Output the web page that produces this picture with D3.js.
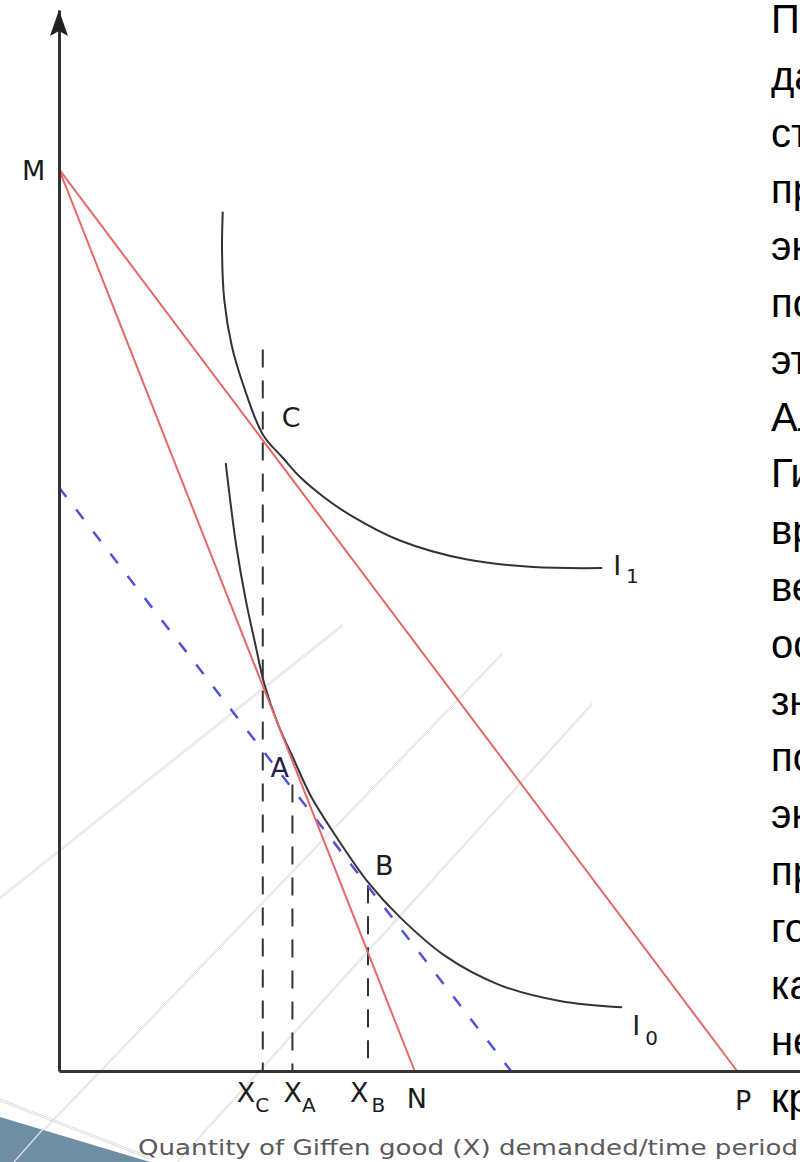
<!DOCTYPE html>
<html>
<head>
<meta charset="utf-8">
<script src="https://cdn.jsdelivr.net/npm/d3@7"></script>
<style>
  body { margin: 0; background: #fff; overflow: hidden; }
  svg { display: block; }
</style>
</head>
<body>
<div id="chart"></div>
<script>
var svgWidth = 800;
var svgHeight = 1162;

// budget lines, as [x, y] intercept pairs in chart units
var budgetMN = [[0, 8.5], [4.8, 0]];
var budgetMP = [[0, 8.5], [9.15, 0]];
var compensated = [[0, 5.5], [6.1, 0]];

// indifference curves
var curveI1 = [[2.21, 8.10], [2.20, 7.74], [2.23, 7.27], [2.33, 6.84], [2.48, 6.48],
  [2.75, 6.00], [3.02, 5.78], [3.25, 5.60], [3.59, 5.40], [3.93, 5.24], [4.60, 5.00],
  [5.51, 4.82], [6.40, 4.75], [7.33, 4.74]];
var curveI0 = [[2.25, 5.73], [2.31, 5.38], [2.39, 4.96], [2.52, 4.44], [2.65, 4.02],
  [2.77, 3.65], [2.96, 3.26], [3.16, 2.95], [3.40, 2.59], [3.74, 2.21], [4.17, 1.78],
  [4.60, 1.45], [5.22, 1.08], [5.95, 0.81], [6.76, 0.66], [7.60, 0.60]];

// quantities demanded and height where the dashed drop line starts
var dropNames = ["C", "A", "B"];
var dropX = [2.75, 3.15, 4.17];
var dropTop = [6.8, 2.7, 1.75];

var axisTitle = "Quantity of Giffen good (X) demanded/time period";

// slide text on the right, cut by the edge
var slideLines = ["Парадокс", "данный", "стал", "примером", "экономической", "политики",
  "этот", "Альфред", "Гиффен", "время", "века", "основываясь", "знании", "положения",
  "экономики", "при", "голоде", "картофель", "не", "кризис"];

var svg = d3.select("#chart")
  .append("svg")
  .attr("width", svgWidth)
  .attr("height", svgHeight);

var x = d3.scaleLinear().domain([0, 10]).range([59, 800]);
var y = d3.scaleLinear().domain([0, 10]).range([1071, 10]);

// background decoration of the slide
var deco = svg.append("g").attr("fill", "none");
var decoLines = [[0, 898, 343, 625], [13, 1162, 502, 654], [177, 1162, 592, 704], [0, 1100, 150, 1158]];
decoLines.forEach(function(l) {
  [-1, 1].forEach(function(o) {
    deco.append("line")
      .attr("x1", l[0]).attr("y1", l[1] + o)
      .attr("x2", l[2]).attr("y2", l[3] + o)
      .attr("stroke", "#d2d2d2")
      .attr("stroke-width", 0.8);
  });
});
deco.append("path")
  .attr("d", "M0,1117L150,1162L0,1162Z")
  .attr("fill", "#6f8ea4");
deco.append("line")
  .attr("x1", 14).attr("y1", 1162).attr("x2", 44).attr("y2", 1128)
  .attr("stroke", "#dfe8ee").attr("stroke-width", 1.2);

// slide text
var slideText = svg.append("g")
  .attr("font-family", "'Liberation Sans', Arial, sans-serif")
  .attr("font-size", 40)
  .attr("fill", "#000");
slideLines.forEach(function(t, i) {
  slideText.append("text")
    .attr("x", 771)
    .attr("y", 33 + i * 56.8)
    .text(t);
});

var line = d3.line().x(d => x(d[0])).y(d => y(d[1]));

// dashed drop lines
var drops = svg.append("g");
dropX.forEach(function(v, i) {
  drops.append("line")
    .attr("x1", x(v)).attr("y1", y(dropTop[i]))
    .attr("x2", x(v)).attr("y2", y(0))
    .attr("stroke", "#333")
    .attr("stroke-width", 2)
    .attr("stroke-dasharray", "18,13");
});

// compensated budget line
svg.append("path")
  .datum(compensated)
  .attr("d", line)
  .attr("fill", "none")
  .attr("stroke", "#5252d6")
  .attr("stroke-width", 2.5)
  .attr("stroke-dasharray", "12,16");

// indifference curves
var curve = d3.line().x(d => x(d[0])).y(d => y(d[1])).curve(d3.curveCatmullRom);
[curveI1, curveI0].forEach(function(c) {
  svg.append("path")
    .datum(c)
    .attr("d", curve)
    .attr("fill", "none")
    .attr("stroke", "#333")
    .attr("stroke-width", 2);
});

// budget lines
[budgetMN, budgetMP].forEach(function(b) {
  svg.append("path")
    .datum(b)
    .attr("d", line)
    .attr("fill", "none")
    .attr("stroke", "#e46868")
    .attr("stroke-width", 2);
});

// axes
svg.append("g")
  .attr("transform", `translate(0, ${y(0)})`)
  .call(d3.axisBottom(x).tickValues([]).tickSizeOuter(0));
svg.append("g")
  .attr("transform", `translate(${x(0)}, 0)`)
  .call(d3.axisLeft(y).tickValues([]).tickSizeOuter(0));
svg.selectAll(".domain").attr("stroke", "#333").attr("stroke-width", 3);
svg.append("path")
  .attr("transform", `translate(${x(0)}, ${y(10)})`)
  .attr("d", "M0,0L-9,26L0,21L9,26Z")
  .attr("fill", "#222");

// labels
var labels = svg.append("g")
  .attr("font-family", "'DejaVu Sans', sans-serif")
  .attr("font-size", 27)
  .attr("fill", "#1c1c1c");

function label(px, py, main, sub, subDy, subDx) {
  var t = labels.append("text").attr("x", px).attr("y", py).text(main);
  if (sub) {
    t.append("tspan")
      .attr("font-size", 20)
      .attr("dx", subDx || 0)
      .attr("dy", subDy)
      .text(sub);
  }
  return t;
}

label(x(0) - 37, y(budgetMN[0][1]) + 11, "M");
label(x(budgetMN[1][0]) - 8, y(0) + 37, "N");
label(x(budgetMP[1][0]) - 2, y(0) + 39, "P");
label(x(dropX[0]) + 19, y(curveI1[5][1]) - 7, "C");
label(x(dropX[1]) - 22, y(curveI0[7][1]) + 19, "A").attr("fill", "#22224a");
label(x(dropX[2]) + 7, y(curveI0[10][1]) - 7, "B");
label(x(curveI1[13][0]) + 11, y(curveI1[13][1]) + 7, "I", "1", 8, 5);
label(x(curveI0[15][0]) + 10, y(curveI0[15][1]) + 28, "I", "0", 10, 5);

var xLabelDx = [-26, -9, -18];
var xSubDx = [0, 0, 3];
dropX.forEach(function(v, i) {
  label(x(v) + xLabelDx[i], y(0) + 31, "X", dropNames[i], 10, xSubDx[i]);
});

svg.append("text")
  .attr("x", 138)
  .attr("y", 1155)
  .attr("font-family", "'DejaVu Sans', sans-serif")
  .attr("font-size", 22)
  .attr("fill", "#5a5a5a")
  .attr("textLength", 660)
  .attr("lengthAdjust", "spacingAndGlyphs")
  .text(axisTitle);
</script>
</body>
</html>
